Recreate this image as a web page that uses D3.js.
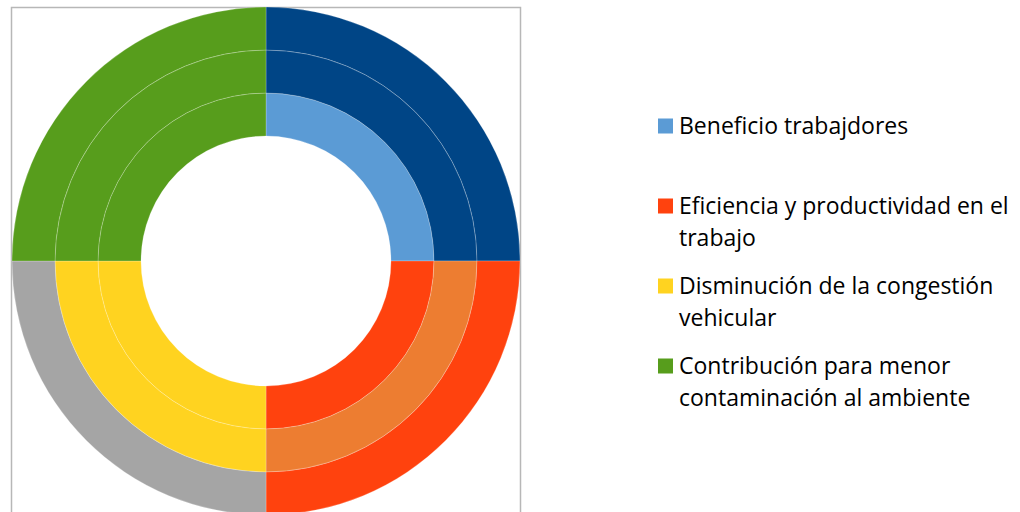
<!DOCTYPE html>
<html>
<head>
<meta charset="utf-8">
<script src="https://cdn.jsdelivr.net/npm/d3@7"></script>
<style>
  body { margin: 0; background: #fff; }
  svg text { font-family: "Open Sans", sans-serif; fill: #000; }
</style>
</head>
<body>
<div id="chart"></div>
<script>
// categories (legend order = slice order, clockwise from 12 o'clock)
var categories = [
  "Beneficio trabajdores",
  "Eficiencia y productividad en el trabajo",
  "Disminución de la congestión vehicular",
  "Contribución para menor contaminación al ambiente"
];
// how the legend text wraps
var legendLines = [
  ["Beneficio trabajdores"],
  ["Eficiencia y productividad en el", "trabajo"],
  ["Disminución de la congestión", "vehicular"],
  ["Contribución para menor", "contaminación al ambiente"]
];

// three series, inner ring first; each quarter is equal
var serie1 = [25, 25, 25, 25];
var serie2 = [25, 25, 25, 25];
var serie3 = [25, 25, 25, 25];

var colors1 = ["#5b9bd5", "#ff420e", "#ffd320", "#579d1c"];
var colors2 = ["#004586", "#ed7d31", "#ffd320", "#579d1c"];
var colors3 = ["#004586", "#ff420e", "#a5a5a5", "#579d1c"];

var rings = [
  { values: serie1, colors: colors1 },
  { values: serie2, colors: colors2 },
  { values: serie3, colors: colors3 }
];

var svgWidth = 1020, svgHeight = 512;
var svg = d3.select("#chart").append("svg")
  .attr("width", svgWidth)
  .attr("height", svgHeight);

// plot area border
svg.append("rect")
  .attr("x", 11.5).attr("y", 7.5)
  .attr("width", 509).attr("height", 540)
  .attr("fill", "none")
  .attr("stroke", "#b7b7b7")
  .attr("stroke-width", 1.5);

var cx = 266, cy = 261;
var outerR = 254, holeR = 125;

// radius scale: ring index -> inner edge
var rScale = d3.scaleLinear()
  .domain([0, rings.length])
  .range([holeR, outerR]);

var pie = d3.pie().sort(null).value(d => d);

var g = svg.append("g")
  .attr("transform", `translate(${cx}, ${cy})`);

rings.forEach(function(ring, i) {
  var arc = d3.arc()
    .innerRadius(rScale(i))
    .outerRadius(rScale(i + 1));

  g.append("g").selectAll("path")
    .data(pie(ring.values))
    .enter()
    .append("path")
    .attr("d", arc)
    .attr("fill", (d, j) => ring.colors[j])
    .attr("stroke", "#ffffff")
    .attr("stroke-opacity", 0.3)
    .attr("stroke-width", 0.75);
});

// legend
var legendY = d3.scalePoint()
  .domain(d3.range(categories.length))
  .range([126, 366]);

var legend = svg.append("g");
categories.forEach(function(c, i) {
  var y = legendY(i);
  legend.append("rect")
    .attr("x", 658).attr("y", y - 7.5)
    .attr("width", 15).attr("height", 15)
    .attr("fill", colors1[i]);
  var t = legend.append("text")
    .attr("x", 679)
    .attr("y", y)
    .style("font-size", "23px");
  legendLines[i].forEach(function(line, k) {
    t.append("tspan")
      .attr("x", 679)
      .attr("dy", k === 0 ? "0.36em" : 32)
      .text(line);
  });
});
</script>
</body>
</html>
